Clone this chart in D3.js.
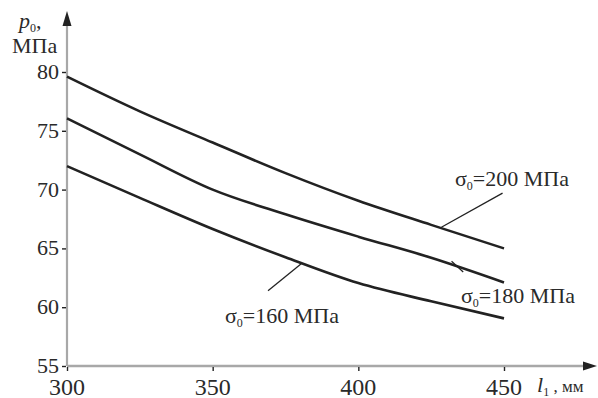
<!DOCTYPE html>
<html>
<head>
<meta charset="utf-8">
<script src="https://cdn.jsdelivr.net/npm/d3@7"></script>
</head>
<body style="margin:0; background:#fff">
<svg id="chart" width="598" height="398" font-family="Liberation Serif"></svg>
<script>
// Length l1, mm
const lengths = [300, 325, 350, 375, 400, 425, 450];
// Pressure p0, MPa, for each yield stress
const p200 = [79.6, 76.65, 74.0, 71.4, 69.05, 67.0, 65.0];
const p180 = [76.05, 73.0, 70.0, 67.9, 66.0, 64.2, 62.1];
const p160 = [72.0, 69.3, 66.65, 64.25, 62.05, 60.5, 59.05];

const xTicks = [300, 350, 400, 450];
const yTicks = [55, 60, 65, 70, 75, 80];

const fontName = "Liberation Serif";
const textInk = "#2a2a2a";

const svg = d3.select("#chart");
const x = d3.scaleLinear().domain([300, 450]).range([67, 504]);
const y = d3.scaleLinear().domain([55, 80]).range([366, 72]);

const axisColor = "#a8a8a8";
const ink = "#222";

function addText(parent, px, py, size) {
  return parent.append("text")
    .attr("x", px).attr("y", py)
    .attr("font-family", fontName)
    .attr("font-size", size)
    .attr("fill", textInk);
}

// Y axis with arrow
svg.append("line").attr("x1", x(300)).attr("x2", x(300))
  .attr("y1", y(55)).attr("y2", 22)
  .attr("stroke", axisColor).attr("stroke-width", 2.2);
svg.append("path")
  .attr("d", `M${x(300)},11 L${x(300) - 4.5},26 L${x(300) + 4.5},26 Z`)
  .attr("fill", ink);

// X axis with arrow
svg.append("line").attr("x1", x(300)).attr("x2", 585)
  .attr("y1", y(55)).attr("y2", y(55))
  .attr("stroke", axisColor).attr("stroke-width", 2.6);
svg.append("path")
  .attr("d", `M597,${y(55)} L583,${y(55) - 4.5} L583,${y(55) + 4.5} Z`)
  .attr("fill", ink);

// Y ticks: marks from the axis generator, labels as plain text
const yAxis = d3.axisLeft(y).tickValues(yTicks).tickSize(4).tickFormat("");
const gy = svg.append("g").attr("transform", `translate(${x(300) - 1},0)`).call(yAxis);
gy.select(".domain").remove();
gy.selectAll(".tick line").attr("stroke", ink).attr("stroke-width", 1.4);
gy.selectAll(".tick text").remove();
yTicks.forEach(v => {
  addText(svg, x(300) - 8, y(v) + 7, 22).attr("text-anchor", "end").text(v);
});

// X ticks
const xAxis = d3.axisBottom(x).tickValues(xTicks).tickSize(4).tickFormat("");
const gx = svg.append("g").attr("transform", `translate(0,${y(55) + 1})`).call(xAxis);
gx.select(".domain").remove();
gx.selectAll(".tick line").attr("stroke", ink).attr("stroke-width", 1.4);
gx.selectAll(".tick text").remove();
xTicks.forEach(v => {
  addText(svg, x(v), 395, 24).attr("text-anchor", "middle").text(v);
});

// Curves
const line = d3.line()
  .x((d, i) => x(lengths[i]))
  .y(d => y(d))
  .curve(d3.curveMonotoneX);

[p200, p180, p160].forEach(series => {
  svg.append("path")
    .datum(series)
    .attr("d", line)
    .attr("fill", "none")
    .attr("stroke", ink)
    .attr("stroke-width", 2.6);
});

// Leader lines from curves to their labels
function leader(x1, y1, x2, y2) {
  svg.append("line")
    .attr("x1", x(x1)).attr("y1", y(y1))
    .attr("x2", x(x2)).attr("y2", y(y2))
    .attr("stroke", ink).attr("stroke-width", 1.3);
}
leader(428.5, 66.8, 449.5, 69.7);
leader(432, 63.9, 436, 63.0);
leader(380.4, 63.7, 369, 61.4);

// Curve label text: σ with subscript 0, then "=value МПа"
function sigmaLabel(px, py, value) {
  const t = addText(svg, px, py, 22);
  t.append("tspan").text("σ");
  t.append("tspan").attr("font-size", 12).attr("dy", 4).text("0");
  t.append("tspan").attr("dy", -4).text("=" + value + " МПа");
}
sigmaLabel(455, 186, "200");
sigmaLabel(461, 303, "180");
sigmaLabel(225, 323, "160");

// Axis titles
const yt = addText(svg, 19, 28, 22);
yt.append("tspan").attr("font-style", "italic").text("p");
yt.append("tspan").attr("font-size", 12).attr("dy", 4).text("0");
yt.append("tspan").attr("dy", -4).text(",");
addText(svg, 12, 53, 22).text("МПа");

const xt = addText(svg, 537, 392, 22);
xt.append("tspan").attr("font-style", "italic").text("l");
xt.append("tspan").attr("font-size", 12).attr("dy", 4).text("1");
xt.append("tspan").attr("dy", -4).attr("font-size", 17).text(" , мм");
</script>
</body>
</html>
